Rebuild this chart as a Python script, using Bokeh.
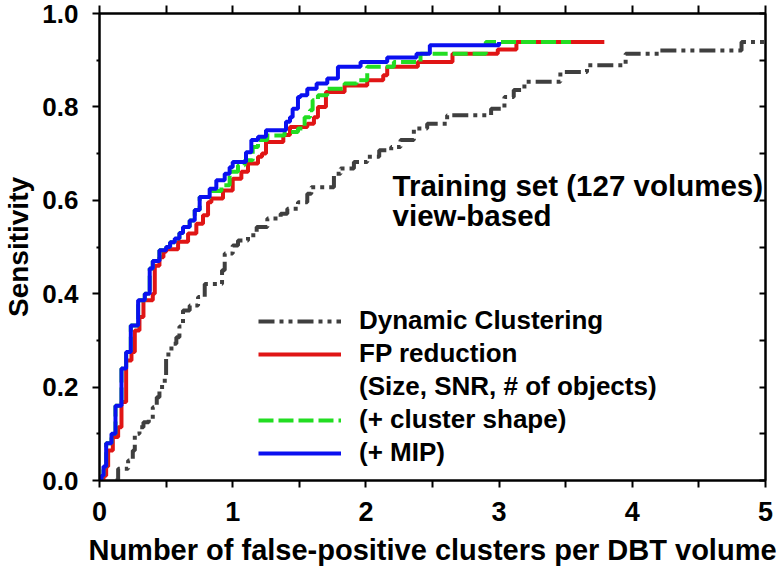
from bokeh.plotting import figure
from bokeh.models import (Range1d, LinearAxis, FixedTicker, NumeralTickFormatter,
                          Legend, LegendItem, Label)
from bokeh.embed import file_html
from bokeh.resources import INLINE

# ---------------- data ----------------
dc_x = [0.12, 0.14, 0.215, 0.25, 0.265, 0.30, 0.33, 0.37, 0.40, 0.43, 0.45, 0.49, 0.50,
        0.54, 0.577, 0.60, 0.627, 0.677, 0.74, 0.79, 0.92, 0.94, 1.00, 1.04, 1.115, 1.18,
        1.26, 1.36, 1.41, 1.49, 1.56, 1.59, 1.76, 1.81, 1.91, 2.01, 2.10, 2.19, 2.26, 2.36,
        2.46, 2.61, 2.94, 3.04, 3.11, 3.19, 3.46, 3.66, 3.95, 4.20, 4.82, 5.00]
dc_y = [0.0, 0.025, 0.043, 0.064, 0.10, 0.114, 0.125, 0.130, 0.157, 0.178, 0.20, 0.22, 0.27,
        0.293, 0.307, 0.33, 0.364, 0.375, 0.393, 0.421, 0.45, 0.486, 0.503, 0.514, 0.525, 0.543,
        0.561, 0.571, 0.582, 0.596, 0.614, 0.628, 0.657, 0.668, 0.682, 0.693, 0.707, 0.714, 0.729, 0.754,
        0.764, 0.782, 0.796, 0.821, 0.836, 0.854, 0.875, 0.889, 0.914, 0.921, 0.939, 0.939]

fp_x = [0.0, 0.03, 0.05, 0.065, 0.10, 0.14, 0.165, 0.20, 0.24, 0.265, 0.30, 0.33, 0.40, 0.415,
        0.45, 0.48, 0.50, 0.59, 0.665, 0.727, 0.777, 0.815, 0.84, 0.927, 1.00, 1.065, 1.115,
        1.19, 1.22, 1.25, 1.38, 1.43, 1.56, 1.61, 1.64, 1.70, 1.84, 2.01, 2.13, 2.16, 2.39,
        2.65, 2.99, 3.13, 3.79]
fp_y = [0.0, 0.01, 0.03, 0.064, 0.093, 0.114, 0.168, 0.257, 0.275, 0.321, 0.35, 0.386, 0.40, 0.46,
        0.478, 0.49, 0.495, 0.511, 0.529, 0.55, 0.568, 0.596, 0.604, 0.621, 0.646, 0.661, 0.679,
        0.693, 0.70, 0.725, 0.74, 0.757, 0.764, 0.778, 0.80, 0.832, 0.846, 0.857, 0.868, 0.886, 0.896,
        0.914, 0.923, 0.939, 0.939]

shape_x = [0.0, 0.015, 0.03, 0.05, 0.09, 0.12, 0.165, 0.20, 0.235, 0.29, 0.34, 0.377, 0.40,
           0.45, 0.50, 0.53, 0.565, 0.60, 0.627, 0.677, 0.715, 0.752, 0.84, 0.915, 0.977, 1.04,
           1.09, 1.15, 1.19, 1.26, 1.39, 1.49, 1.54, 1.58, 1.60, 1.64, 1.71, 1.84, 1.93, 2.01,
           2.21, 2.41, 2.90, 3.54]
shape_y = [0.0, 0.01, 0.03, 0.08, 0.10, 0.16, 0.24, 0.275, 0.332, 0.386, 0.40, 0.454, 0.47,
           0.493, 0.50, 0.51, 0.518, 0.53, 0.543, 0.557, 0.579, 0.607, 0.62, 0.632, 0.661, 0.675,
           0.686, 0.714, 0.729, 0.739, 0.746, 0.754, 0.778, 0.793, 0.814, 0.825, 0.839, 0.85, 0.857, 0.886,
           0.896, 0.914, 0.939, 0.939]

mip_x = [0.0, 0.015, 0.03, 0.05, 0.09, 0.12, 0.165, 0.20, 0.235, 0.29, 0.34, 0.377, 0.40,
         0.45, 0.50, 0.53, 0.565, 0.60, 0.627, 0.677, 0.715, 0.752, 0.827, 0.877, 0.94, 0.977,
         1.00, 1.10, 1.14, 1.19, 1.25, 1.40, 1.43, 1.45, 1.49, 1.51, 1.56, 1.63, 1.71, 1.79,
         1.96, 2.16, 2.38, 2.48, 3.00]
mip_y = [0.0, 0.01, 0.03, 0.08, 0.10, 0.16, 0.24, 0.275, 0.332, 0.386, 0.40, 0.454, 0.47,
         0.493, 0.50, 0.51, 0.518, 0.53, 0.543, 0.557, 0.579, 0.607, 0.625, 0.643, 0.657, 0.671,
         0.682, 0.703, 0.729, 0.736, 0.75, 0.768, 0.778, 0.796, 0.821, 0.825, 0.839, 0.85, 0.861, 0.886,
         0.896, 0.906, 0.914, 0.932, 0.939]

x_ticks = [0, 1, 2, 3, 4, 5]
y_ticks = [0.0, 0.2, 0.4, 0.6, 0.8, 1.0]
series_labels = ["Dynamic Clustering", "FP reduction", "(Size, SNR, # of objects)",
                 "(+ cluster shape)", "(+ MIP)"]
annotation_lines = ["Training set (127 volumes)", "view-based"]

FONT = "Liberation Sans"

x_minor = [a + 0.5 for a in x_ticks[:-1]]
y_minor = [round(a + 0.1, 2) for a in y_ticks[:-1]]
y_fine = sorted(y_ticks + y_minor)
x_fine = sorted(x_ticks + x_minor)

p = figure(width=780, height=572, x_range=Range1d(0, 5), y_range=Range1d(0, 1),
           output_backend="svg", toolbar_location=None,
           min_border_left=98, min_border_right=15, min_border_top=13, min_border_bottom=92,
           x_axis_label="Number of false-positive clusters per DBT volume",
           y_axis_label="Sensitivity")
p.grid.visible = False
p.outline_line_color = "black"
p.outline_line_width = 2
p.background_fill_color = "white"
p.border_fill_color = "white"

def style_axis(ax):
    ax.axis_line_width = 2
    ax.major_tick_line_width = 2
    ax.minor_tick_line_width = 2
    ax.major_label_text_font = FONT
    ax.major_label_text_font_style = "bold"
    ax.major_label_text_color = "black"
    ax.axis_label_text_font = FONT
    ax.axis_label_text_font_style = "bold"
    ax.axis_label_text_color = "black"

xa = p.xaxis[0]
style_axis(xa)
xa.ticker = FixedTicker(ticks=x_ticks, minor_ticks=x_minor)
xa.major_tick_out = 7
xa.major_tick_in = 0
xa.minor_tick_out = 7
xa.minor_tick_in = 0
xa.major_label_text_font_size = "27px"
xa.axis_label_text_font_size = "29px"
xa.major_label_standoff = 14
xa.axis_label_standoff = 10

ya = p.yaxis[0]
style_axis(ya)
ya.ticker = FixedTicker(ticks=y_ticks, minor_ticks=y_minor)
ya.formatter = NumeralTickFormatter(format="0.0")
ya.major_tick_out = 7
ya.major_tick_in = 0
ya.minor_tick_out = 3
ya.minor_tick_in = 0
ya.major_label_text_font_size = "26px"
ya.axis_label_text_font_size = "28px"
ya.major_label_standoff = 14
ya.axis_label_standoff = 5

top = LinearAxis(ticker=FixedTicker(ticks=x_fine),
                 major_label_overrides={t: "" for t in x_fine},
                 major_label_text_font_size="1px",
                 major_tick_out=8, major_tick_in=0, minor_tick_out=0, major_label_standoff=0,
                 axis_line_width=2, major_tick_line_width=2)
p.add_layout(top, "above")
right = LinearAxis(ticker=FixedTicker(ticks=y_fine),
                   major_label_overrides={t: "" for t in y_fine},
                   major_label_text_font_size="1px",
                   major_tick_out=0, major_tick_in=6, minor_tick_out=0, major_label_standoff=0,
                   axis_line_width=2, major_tick_line_width=2)
p.add_layout(right, "right")

r_dc = p.step(dc_x, dc_y, mode="after", line_color="#3f3f3f", line_width=4,
              line_dash="16 5 4 5 4 5")
r_fp = p.step(fp_x, fp_y, mode="after", line_color="#e01515", line_width=4)
r_sh = p.step(shape_x, shape_y, mode="after", line_color="#22dd22", line_width=4,
              line_dash="15 5")
r_mip = p.step(mip_x, mip_y, mode="after", line_color="#0a10f0", line_width=4)
r_dummy = p.step(fp_x, fp_y, mode="after", line_alpha=0, line_width=4)

legend = Legend(items=[
    LegendItem(label=series_labels[0], renderers=[r_dc]),
    LegendItem(label=series_labels[1], renderers=[r_fp]),
    LegendItem(label=series_labels[2], renderers=[r_dummy]),
    LegendItem(label=series_labels[3], renderers=[r_sh]),
    LegendItem(label=series_labels[4], renderers=[r_mip]),
], location=(159, 12), padding=0, margin=0, spacing=2,
    glyph_width=83, glyph_height=30, label_height=30, label_standoff=18,
    label_text_font=FONT, label_text_font_style="bold", label_text_font_size="26px",
    label_text_color="black",
    border_line_alpha=0, background_fill_alpha=0)
p.add_layout(legend, "center")

for txt, yy in zip(annotation_lines, [0.632, 0.568]):
    p.add_layout(Label(x=2.2, y=yy, text=txt, text_font=FONT, text_font_style="bold",
                       text_font_size="29.5px", text_baseline="alphabetic", text_color="black"))

open("out.html", "w").write(file_html(p, INLINE))
